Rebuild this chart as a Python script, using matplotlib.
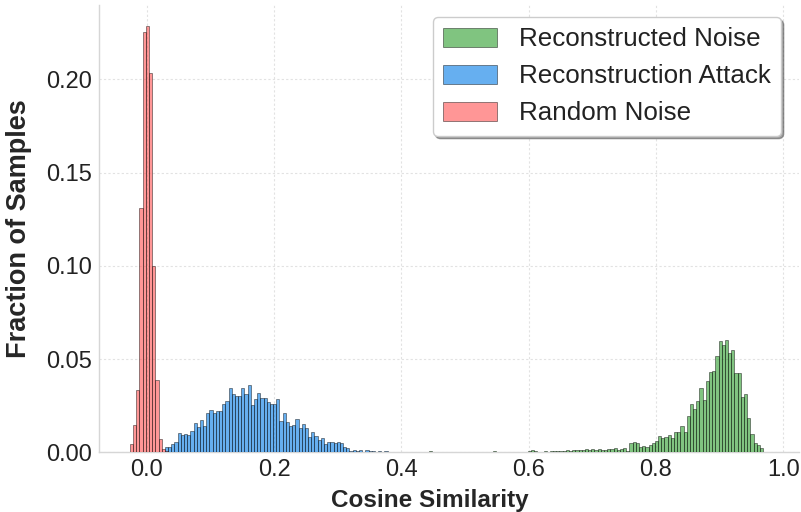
import numpy as np
import matplotlib
matplotlib.use("Agg")
import matplotlib.pyplot as plt

# histogram bin layout (common grid for all three series)
BIN_W = 0.005
FIRST_EDGE = -0.0265

# fraction of samples per bin
red_first_bin = 0
red_frac = [0.0046, 0.0148, 0.0335, 0.131, 0.2255, 0.2284, 0.2034, 0.0998,
            0.0385, 0.0070, 0.0019, 0.0008]

blue_first_bin = 11
blue_frac = [0.0029, 0.0029, 0.0043, 0.0057, 0.0102, 0.0093, 0.0100, 0.0093,
             0.0114, 0.0155, 0.0138, 0.0173, 0.0141, 0.0209, 0.0225, 0.0209,
             0.0223, 0.0223, 0.0259, 0.0275, 0.0343, 0.0311, 0.0302, 0.0302,
             0.0343, 0.0311, 0.0361, 0.0254, 0.0284, 0.0316, 0.0293, 0.0293,
             0.0272, 0.0257, 0.0257, 0.0286, 0.0168, 0.0213, 0.0161, 0.0143,
             0.0146, 0.0179, 0.0129, 0.0150, 0.0129, 0.0080, 0.0107, 0.0088,
             0.0066, 0.0075, 0.0045, 0.0054, 0.0057, 0.0052, 0.0057, 0.0048,
             0.0030, 0.0021, 0.0009, 0.0013, 0.0005, 0.0011, 0.0003, 0.0012,
             0.0005, 0.0008, 0.0004, 0.0006, 0.0003, 0.0005, 0.0, 0.0004,
             0.0, 0.0003, 0.0, 0.0, 0.0003]

green_first_bin = 94
green_frac = [0.0005, 0.0, 0.0, 0.0, 0.0, 0.0, 0.0, 0.0, 0.0, 0.0,
              0.0, 0.0, 0.0, 0.0, 0.0, 0.0, 0.0, 0.0, 0.0, 0.0,
              0.0005, 0.0, 0.0, 0.0, 0.0, 0.0, 0.0, 0.0, 0.0, 0.0,
              0.0, 0.0008, 0.0012, 0.0005, 0.0, 0.0004, 0.0005, 0.0004,
              0.0006, 0.0005, 0.0008, 0.0006, 0.0008, 0.0010, 0.0008, 0.0012,
              0.0010, 0.0014, 0.0012, 0.0016, 0.0012, 0.0018, 0.0015, 0.0020,
              0.0012,
              0.0010, 0.0020, 0.0018, 0.0023, 0.0013, 0.0016, 0.0023, 0.0009,
              0.0048, 0.0054, 0.0048, 0.0027, 0.0034, 0.0027, 0.0039, 0.0048,
              0.0061, 0.0088, 0.0079, 0.0080, 0.0093, 0.0075, 0.0107, 0.0107,
              0.0141, 0.0110, 0.0195, 0.0259, 0.0232, 0.0277, 0.0347, 0.0280,
              0.0384, 0.0432, 0.0438, 0.0516, 0.0597, 0.0575, 0.0602, 0.0531,
              0.0548, 0.0423, 0.0423, 0.0298, 0.0313, 0.0182, 0.0098, 0.0052,
              0.0039, 0.0021]

labels = ["Reconstructed Noise", "Reconstruction Attack", "Random Noise"]
colors = ["#2b9d2b", "#007ae6", "#ff5050"]
xticks = [0.0, 0.2, 0.4, 0.6, 0.8, 1.0]
yticks = [0.00, 0.05, 0.10, 0.15, 0.20]

plt.rcParams['font.family'] = ['Liberation Sans', 'DejaVu Sans']


def left_edges(first_bin, frac):
    return FIRST_EDGE + BIN_W * (first_bin + np.arange(len(frac)))


fig = plt.figure(figsize=(8.01, 5.12), dpi=100)
ax = fig.add_axes([0.1236, 0.1166, 0.874, 0.8736])

series = [(green_first_bin, green_frac), (blue_first_bin, blue_frac),
          (red_first_bin, red_frac)]
for (first, frac), lab, col in zip(series, labels, colors):
    ax.bar(left_edges(first, frac), frac, width=BIN_W, align='edge',
           color=col, alpha=0.6, edgecolor='black', linewidth=0.5, label=lab,
           zorder=3)

ax.set_xlim(-0.075, 1.025)
ax.set_ylim(0, max(red_frac) * 1.05)
ax.set_xticks(xticks)
ax.set_xticklabels(["%.1f" % t for t in xticks])
ax.set_yticks(yticks)
ax.set_yticklabels(["%.2f" % t for t in yticks])
ax.tick_params(length=0, labelsize=17, pad=5, colors='#222222')

ax.grid(True, color='#e2e2e2', linestyle=(0, (2, 2)), linewidth=0.8, zorder=0)
for s in ['top', 'right']:
    ax.spines[s].set_visible(False)
for s in ['left', 'bottom']:
    ax.spines[s].set_color('#d6d6d6')
    ax.spines[s].set_linewidth(1.0)

ax.set_xlabel("Cosine Similarity", fontsize=17.5, fontweight='bold', color='#262626')
ax.set_ylabel("Fraction of Samples", fontsize=19.5, fontweight='bold', color='#262626')
ax.xaxis.set_label_coords(0.473, -0.082)
ax.yaxis.set_label_coords(-0.096, 0.5)

leg = ax.legend(loc='upper right', fontsize=18.7, frameon=True, shadow=True,
                fancybox=True, framealpha=1, edgecolor='#cccccc',
                handlelength=2.06, handleheight=0.74, handletextpad=0.85,
                borderpad=0.4, labelspacing=0.5, borderaxespad=0,
                bbox_to_anchor=(0.974, 0.973))
for t in leg.get_texts():
    t.set_color('#222222')

fig.savefig("out.png", dpi=100)
